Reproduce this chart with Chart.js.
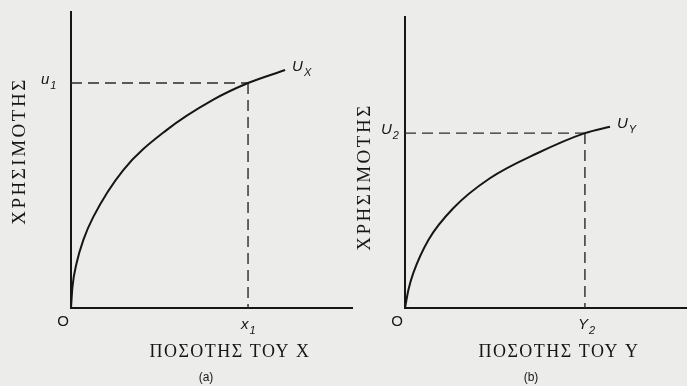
<!DOCTYPE html>
<html>
<head>
<meta charset="utf-8">
<script src="https://cdn.jsdelivr.net/npm/chart.js@4.4.1/dist/chart.umd.min.js"></script>
<style>
  html, body { margin: 0; padding: 0; background: #ececeb; }
  #wrap { position: relative; width: 687px; height: 386px; overflow: hidden; }
  .pane { position: absolute; top: 0; }
</style>
</head>
<body>
<div id="wrap">
  <div class="pane" style="left:0px"><canvas id="chartA" width="360" height="386"></canvas></div>
  <div class="pane" style="left:350px"><canvas id="chartB" width="337" height="386"></canvas></div>
</div>
<script>
// ---- Data: panel (a) utility of good X ----
const quantityX = [0, 0.5, 2.0, 4.4, 7.9, 18.6, 34.0, 50.5, 63, 76.2];
const utilityX  = [0, 7.0, 15.2, 23.0, 30.7, 46.6, 60.1, 70.3, 76.0, 80.4];
const X1 = 63;      // marked quantity x1
const U1 = 76.0;    // utility at x1

// ---- Data: panel (b) utility of good Y ----
const quantityY = [0, 1.2, 2.9, 8.3, 17.1, 30.1, 46.7, 63.8, 72.7];
const utilityY  = [0, 6.2, 11.9, 23.4, 34.3, 44.6, 53.1, 60.1, 62.3];
const Y2 = 63.8;    // marked quantity Y2
const U2 = 60.1;    // utility at Y2

// ---- Axis ranges ----
const axisMax = 100;

// ---- Text ----
const labelsA = { origin: 'O', xTick: 'x', xSub: '1', yTick: 'u', ySub: '1', curve: 'U', curveSub: 'X',
                  xTitle: 'ΠΟΣΟΤΗΣ ΤΟΥ X', yTitle: 'ΧΡΗΣΙΜΟΤΗΣ', panel: '(a)' };
const labelsB = { origin: 'O', xTick: 'Y', xSub: '2', yTick: 'U', ySub: '2', curve: 'U', curveSub: 'Y',
                  xTitle: 'ΠΟΣΟΤΗΣ ΤΟΥ Y', yTitle: 'ΧΡΗΣΙΜΟΤΗΣ', panel: '(b)' };

const INK = '#161616';
const SERIF = '"Liberation Serif", "DejaVu Serif", serif';
const SANS = '"Liberation Sans", "DejaVu Sans", sans-serif';

function toPoints(xs, ys) { return xs.map((x, i) => ({ x: x, y: ys[i] })); }

function drawSub(ctx, base, sub, x, y, size) {
  ctx.font = 'italic ' + size + 'px ' + SANS;
  ctx.textAlign = 'left';
  ctx.textBaseline = 'middle';
  ctx.fillText(base, x, y);
  const w = ctx.measureText(base).width;
  ctx.font = 'italic ' + Math.round(size * 0.75) + 'px ' + SANS;
  ctx.fillText(sub, x + w + 1, y + size * 0.42);
}

function makeLabelPlugin(L, xv, yv, endX, endY, o) {
  return {
    id: 'labels',
    afterDraw(chart) {
      const ctx = chart.ctx;
      const xs = chart.scales.x, ys = chart.scales.y;
      const x0 = xs.getPixelForValue(0), y0 = ys.getPixelForValue(0);
      const px = xs.getPixelForValue(xv), py = ys.getPixelForValue(yv);
      const ex = xs.getPixelForValue(endX), ey = ys.getPixelForValue(endY);
      ctx.save();
      ctx.fillStyle = INK;
      // origin
      ctx.font = '15px ' + SANS;
      ctx.textAlign = 'center';
      ctx.textBaseline = 'middle';
      ctx.fillText(L.origin, x0 - 8, y0 + 14);
      // ticks
      drawSub(ctx, L.xTick, L.xSub, px - 7, y0 + 17, 15);
      drawSub(ctx, L.yTick, L.ySub, x0 - o.yTickDx, py - 3, 15);
      // curve name
      drawSub(ctx, L.curve, L.curveSub, ex + 7, ey - 3, 15);
      // x title
      ctx.font = '18px ' + SERIF;
      ctx.letterSpacing = '1.5px';
      ctx.textAlign = 'center';
      ctx.textBaseline = 'middle';
      ctx.fillText(L.xTitle, o.titleX, y0 + 44);
      ctx.letterSpacing = '0px';
      ctx.font = '12px ' + SANS;
      ctx.fillText(L.panel, o.panelX, y0 + 70);
      // y title
      ctx.save();
      ctx.translate(o.yTitleX, o.yTitleY);
      ctx.rotate(-Math.PI / 2);
      ctx.font = '19px ' + SERIF;
      ctx.letterSpacing = '2.5px';
      ctx.textAlign = 'center';
      ctx.textBaseline = 'middle';
      ctx.fillText(L.yTitle, 0, 0);
      ctx.restore();
      ctx.restore();
    }
  };
}

function buildChart(id, xs, ys, xm, ym, labels, pad, o) {
  const endX = xs[xs.length - 1], endY = ys[ys.length - 1];
  return new Chart(document.getElementById(id), {
    type: 'scatter',
    data: {
      datasets: [
        { data: toPoints(xs, ys), showLine: true, borderColor: INK, borderWidth: 2,
          pointRadius: 0, cubicInterpolationMode: 'monotone', order: 0 },
        { data: [{ x: 0, y: ym }, { x: xm, y: ym }], showLine: true, borderColor: '#2a2a2a',
          borderWidth: 1.4, borderDash: [11, 6], pointRadius: 0, order: 1 },
        { data: [{ x: xm, y: ym }, { x: xm, y: 0 }], showLine: true, borderColor: '#2a2a2a',
          borderWidth: 1.4, borderDash: [11, 6], pointRadius: 0, order: 1 }
      ]
    },
    options: {
      responsive: false,
      animation: false,
      devicePixelRatio: 1,
      layout: { padding: pad, autoPadding: false },
      plugins: { legend: { display: false }, tooltip: { enabled: false } },
      scales: {
        x: { type: 'linear', min: 0, max: axisMax,
             grid: { display: false, drawTicks: false },
             ticks: { display: false },
             border: { display: true, color: INK, width: 2 } },
        y: { type: 'linear', min: 0, max: axisMax,
             grid: { display: false, drawTicks: false },
             ticks: { display: false },
             border: { display: true, color: INK, width: 2 } }
      }
    },
    plugins: [makeLabelPlugin(labels, xm, ym, endX, endY, o)]
  });
}

buildChart('chartA', quantityX, utilityX, X1, U1, labelsA,
  { left: 71, right: 8, top: 12, bottom: 78 },
  { yTickDx: 30, titleX: 230, panelX: 206, yTitleX: 20, yTitleY: 151 });

buildChart('chartB', quantityY, utilityY, Y2, U2, labelsB,
  { left: 55, right: 0, top: 17, bottom: 78 },
  { yTickDx: 24, titleX: 209, panelX: 181, yTitleX: 15, yTitleY: 177 });
</script>
</body>
</html>
